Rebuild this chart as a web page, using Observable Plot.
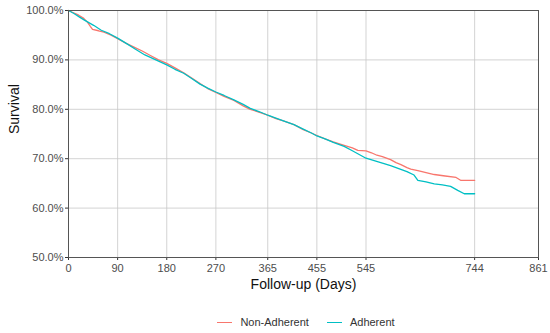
<!DOCTYPE html>
<html>
<head>
<meta charset="utf-8">
<script src="https://cdn.jsdelivr.net/npm/d3@7"></script>
<script src="https://cdn.jsdelivr.net/npm/@observablehq/plot@0.6"></script>
<style>
  html, body { margin: 0; padding: 0; background: #fff; }
  body { width: 550px; height: 333px; overflow: hidden; font-family: "Liberation Sans", Arial, sans-serif; }
  #legend { display: flex; justify-content: center; align-items: center; gap: 18px; margin-top: 14px; padding-left: 62px; font-size: 11px; color: #333; }
  .item { display: flex; align-items: center; gap: 8px; }
  .sw { width: 15px; height: 0; border-top: 1.3px solid; }
</style>
</head>
<body>
<div id="chart"></div>
<div id="legend"></div>
<script>
const groups = ["Non-Adherent", "Adherent"];
const colors = ["#F8766D", "#00BFC4"];
const xTicks = [0, 90, 180, 270, 365, 455, 545, 744, 861];
const yTicks = [0.5, 0.6, 0.7, 0.8, 0.9, 1.0];

const nonAdherentDays = [0,8,18,28,35,40,44,55,65,78,90,105,120,135,150,165,180,195,211,225,241,255,270,285,303,320,333,350,365,380,395,413,430,445,455,470,485,505,520,530,545,555,565,575,590,600,609,620,627,640,655,670,690,710,719,744];
const nonAdherentSurv = [100,99.6,99.1,98.4,97.6,96.8,96.2,95.9,95.6,95.0,94.3,93.4,92.6,91.8,90.9,90.0,89.3,88.4,87.4,86.4,85.2,84.2,83.4,82.6,81.8,80.7,80.0,79.4,78.8,78.1,77.6,76.9,75.9,75.2,74.7,74.0,73.4,72.7,72.2,71.7,71.6,71.2,70.7,70.4,69.8,69.2,68.8,68.2,67.9,67.6,67.2,66.8,66.5,66.2,65.6,65.6];

const adherentDays = [0,10,21,30,38,46,60,75,90,105,125,140,162,180,195,211,225,241,255,270,285,303,320,333,350,365,380,395,413,430,445,455,470,485,505,520,535,545,560,575,590,605,620,633,640,655,670,685,700,713,725,744];
const adherentSurv = [100,99.4,98.6,98.0,97.5,97.0,96.0,95.3,94.4,93.4,92.0,91.0,89.9,89.0,88.1,87.3,86.3,85.1,84.3,83.5,82.8,81.9,81.0,80.2,79.5,78.8,78.2,77.6,76.9,76.0,75.2,74.6,74.0,73.3,72.5,71.6,70.7,70.1,69.6,69.1,68.6,68.0,67.4,66.7,65.6,65.3,64.9,64.7,64.4,63.6,62.9,62.9];

const rows = [];
nonAdherentDays.forEach((d, i) => rows.push({group: groups[0], day: d, surv: nonAdherentSurv[i] / 100}));
adherentDays.forEach((d, i) => rows.push({group: groups[1], day: d, surv: adherentSurv[i] / 100}));

const fmt = d3.format(".1%");

const plot = Plot.plot({
  width: 550,
  height: 302,
  marginTop: 10,
  marginBottom: 45,
  marginLeft: 68,
  marginRight: 12,
  style: { fontFamily: "Liberation Sans, Arial, sans-serif", fontSize: "11px", color: "#4d4d4d", background: "#fff" },
  x: { domain: [0, 861], ticks: xTicks, label: null },
  y: { domain: [0.5, 1.0], ticks: yTicks, label: null },
  color: { domain: groups, range: colors },
  marks: [
    Plot.gridX(xTicks, { stroke: "#c8c8c8", strokeOpacity: 1, strokeWidth: 0.8 }),
    Plot.gridY(yTicks, { stroke: "#c8c8c8", strokeOpacity: 1, strokeWidth: 0.8 }),
    Plot.axisX({ ticks: xTicks, tickSize: 3, tickPadding: 4, stroke: "#333", fill: "#4d4d4d", fontSize: 11 }),
    Plot.axisY({ ticks: yTicks, tickSize: 3, tickPadding: 2, tickFormat: fmt, stroke: "#333", fill: "#4d4d4d", fontSize: 11 }),
    Plot.line(rows, { x: "day", y: "surv", z: "group", stroke: "group", curve: "linear", strokeWidth: 1.3 }),
    Plot.frame({ stroke: "#555", strokeWidth: 1 }),
    Plot.text(["Follow-up (Days)"], { frameAnchor: "bottom", dy: 31, text: d => d, fontSize: 14, fill: "#111" }),
    Plot.text(["Survival"], { frameAnchor: "left", dx: -54, rotate: -90, text: d => d, fontSize: 14, fill: "#111" })
  ]
});
document.getElementById("chart").appendChild(plot);

const leg = document.getElementById("legend");
groups.forEach((g, i) => {
  const it = document.createElement("div");
  it.className = "item";
  const sw = document.createElement("span");
  sw.className = "sw";
  sw.style.borderTopColor = colors[i];
  const t = document.createElement("span");
  t.textContent = g;
  it.appendChild(sw);
  it.appendChild(t);
  leg.appendChild(it);
});
</script>
</body>
</html>
